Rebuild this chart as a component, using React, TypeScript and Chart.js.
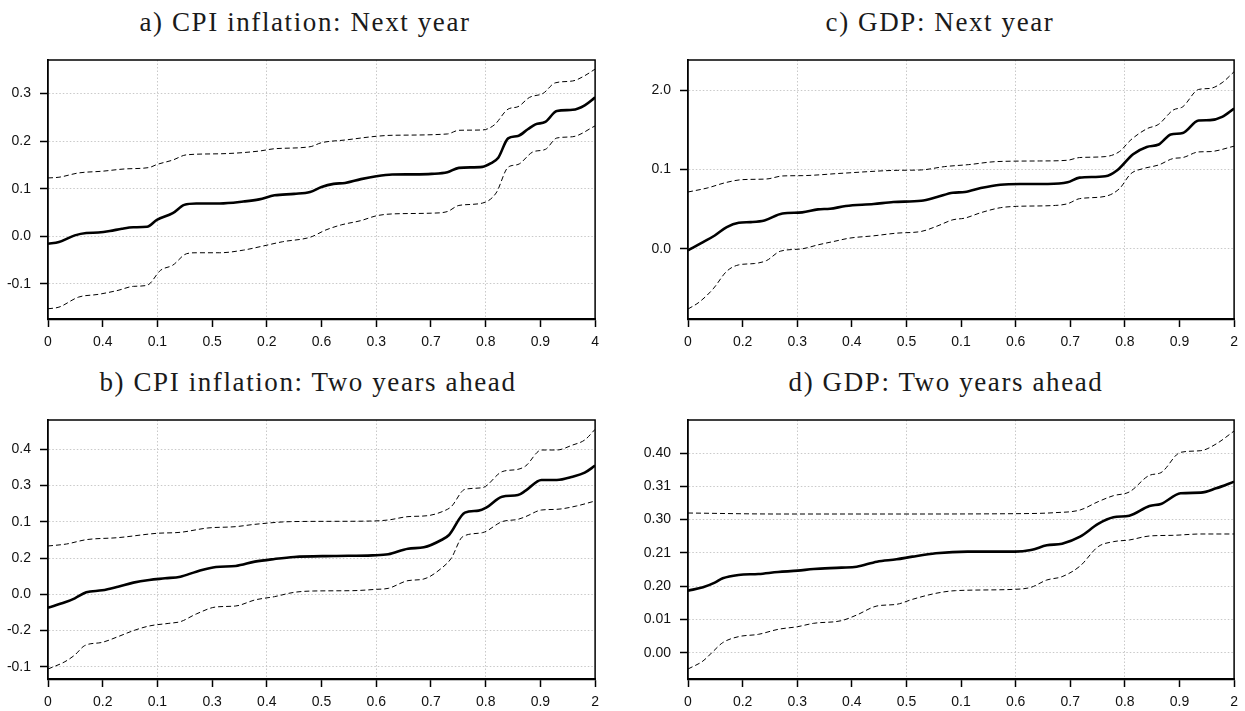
import React, { useEffect, useRef } from "react";
import { Chart, registerables } from "chart.js";

Chart.register(...registerables);

// ---------- tick positions and labels ----------
const xTickValues = [0, 0.1, 0.2, 0.3, 0.4, 0.5, 0.6, 0.7, 0.8, 0.9, 1];
const xLabelsA = ["0", "0.4", "0.1", "0.5", "0.2", "0.6", "0.3", "0.7", "0.8", "0.9", "4"];
const xLabelsB = ["0", "0.2", "0.1", "0.3", "0.4", "0.5", "0.6", "0.7", "0.8", "0.9", "2"];
const xLabelsC = ["0", "0.2", "0.3", "0.4", "0.5", "0.1", "0.6", "0.7", "0.8", "0.9", "2"];
const xLabelsD = ["0", "0.2", "0.3", "0.4", "0.5", "0.1", "0.6", "0.7", "0.8", "0.9", "2"];

const yTicksA = [-0.1, 0, 0.1, 0.2, 0.3];
const yLabelsA = ["-0.1", "0.0", "0.1", "0.2", "0.3"];
const yTicksB = [-0.2, -0.1, 0, 0.1, 0.2, 0.3, 0.4];
const yLabelsB = ["-0.1", "-0.2", "0.0", "0.2", "0.1", "0.3", "0.4"];
const yTicksC = [0, 0.1, 0.2];
const yLabelsC = ["0.0", "0.1", "2.0"];
const yTicksD = [0, 0.1, 0.2, 0.3, 0.4, 0.5, 0.6];
const yLabelsD = ["0.00", "0.01", "0.20", "0.21", "0.30", "0.31", "0.40"];

const yRangeA = [-0.1735, 0.37];
const yRangeB = [-0.2335, 0.4807];
const yRangeC = [-0.0884, 0.2379];
const yRangeD = [-0.0792, 0.6994];

// ---------- a) CPI inflation: Next year ----------
const aMidX = [0, 0.02, 0.049, 0.07, 0.092, 0.113, 0.135, 0.156, 0.181, 0.199, 0.228, 0.249, 0.271, 0.314, 0.357, 0.386, 0.414, 0.45, 0.479, 0.5, 0.522, 0.543, 0.572, 0.6, 0.629, 0.665, 0.701, 0.73, 0.751, 0.794, 0.809, 0.823, 0.841, 0.859, 0.877, 0.891, 0.909, 0.93, 0.959, 0.981, 1];
const aMidY = [-0.0155, -0.012, 0.002, 0.007, 0.008, 0.011, 0.016, 0.019, 0.02, 0.0345, 0.0486, 0.066, 0.069, 0.069, 0.073, 0.0775, 0.086, 0.089, 0.093, 0.1035, 0.11, 0.112, 0.12, 0.126, 0.1296, 0.13, 0.131, 0.1345, 0.1437, 0.1458, 0.153, 0.165, 0.2056, 0.2106, 0.2246, 0.235, 0.24, 0.263, 0.2655, 0.275, 0.2915];
const aUpX = [0, 0.02, 0.056, 0.099, 0.142, 0.185, 0.199, 0.228, 0.253, 0.314, 0.386, 0.414, 0.479, 0.5, 0.543, 0.6, 0.629, 0.73, 0.751, 0.794, 0.816, 0.841, 0.859, 0.88, 0.905, 0.927, 0.959, 0.981, 1];
const aUpY = [0.1225, 0.124, 0.133, 0.1366, 0.1415, 0.1444, 0.1507, 0.16, 0.171, 0.1732, 0.1789, 0.1838, 0.188, 0.1965, 0.2021, 0.2099, 0.212, 0.2148, 0.2225, 0.2232, 0.234, 0.267, 0.272, 0.2915, 0.3, 0.322, 0.326, 0.337, 0.351];
const aLoX = [0, 0.02, 0.056, 0.092, 0.128, 0.156, 0.181, 0.206, 0.228, 0.253, 0.271, 0.314, 0.357, 0.393, 0.429, 0.479, 0.508, 0.536, 0.572, 0.6, 0.629, 0.701, 0.73, 0.751, 0.794, 0.819, 0.841, 0.859, 0.887, 0.909, 0.93, 0.959, 1];
const aLoY = [-0.152, -0.1486, -0.1275, -0.1218, -0.1134, -0.105, -0.1028, -0.0711, -0.0606, -0.0366, -0.0345, -0.0345, -0.029, -0.0204, -0.0113, -0.002, 0.0134, 0.024, 0.033, 0.043, 0.047, 0.0486, 0.052, 0.0648, 0.0697, 0.0908, 0.145, 0.1507, 0.1775, 0.1824, 0.2063, 0.209, 0.2317];

// ---------- b) CPI inflation: Two years ahead ----------
const bMidX = [0, 0.031, 0.049, 0.07, 0.099, 0.128, 0.156, 0.185, 0.214, 0.242, 0.271, 0.307, 0.343, 0.378, 0.414, 0.45, 0.522, 0.593, 0.622, 0.658, 0.687, 0.719, 0.733, 0.762, 0.787, 0.801, 0.83, 0.859, 0.873, 0.902, 0.93, 0.959, 0.981, 1];
const bMidY = [-0.0368, -0.022, -0.011, 0.0055, 0.011, 0.0211, 0.0322, 0.0395, 0.0441, 0.0487, 0.0625, 0.0754, 0.0781, 0.0901, 0.0974, 0.1029, 0.1057, 0.1075, 0.1103, 0.1259, 0.1296, 0.1498, 0.1636, 0.2252, 0.2307, 0.239, 0.2693, 0.2739, 0.2858, 0.3153, 0.3153, 0.3244, 0.3355, 0.3548];
const bUpX = [0, 0.034, 0.07, 0.128, 0.199, 0.242, 0.292, 0.343, 0.378, 0.443, 0.522, 0.593, 0.622, 0.658, 0.694, 0.722, 0.737, 0.762, 0.794, 0.83, 0.859, 0.873, 0.902, 0.93, 0.959, 0.981, 1];
const bUpY = [0.1333, 0.1388, 0.1507, 0.1563, 0.1682, 0.171, 0.1829, 0.1866, 0.193, 0.2004, 0.2013, 0.2022, 0.205, 0.2142, 0.2169, 0.2289, 0.2417, 0.2895, 0.2941, 0.3382, 0.3447, 0.3539, 0.398, 0.398, 0.4118, 0.4256, 0.455];
const bLoX = [0, 0.031, 0.049, 0.067, 0.099, 0.128, 0.156, 0.185, 0.221, 0.242, 0.271, 0.307, 0.343, 0.378, 0.414, 0.45, 0.486, 0.557, 0.6, 0.622, 0.658, 0.687, 0.719, 0.737, 0.758, 0.794, 0.83, 0.859, 0.873, 0.902, 0.93, 0.966, 1];
const bLoY = [-0.2059, -0.1857, -0.1673, -0.1415, -0.1324, -0.1167, -0.1002, -0.0873, -0.08, -0.0754, -0.0542, -0.0349, -0.0322, -0.0156, -0.0064, 0.0055, 0.0092, 0.0101, 0.0138, 0.0165, 0.0377, 0.0423, 0.0717, 0.0993, 0.159, 0.17, 0.2004, 0.2068, 0.2142, 0.2325, 0.2344, 0.2436, 0.2574];

// ---------- c) GDP: Next year ----------
const cMidX = [0, 0.0276, 0.049, 0.071, 0.093, 0.115, 0.14, 0.173, 0.209, 0.238, 0.26, 0.289, 0.34, 0.376, 0.427, 0.456, 0.485, 0.507, 0.536, 0.572, 0.608, 0.659, 0.695, 0.717, 0.764, 0.786, 0.815, 0.84, 0.862, 0.884, 0.906, 0.935, 0.956, 0.978, 1];
const cMidY = [-0.002, 0.0084, 0.0168, 0.0274, 0.0328, 0.0337, 0.0358, 0.0446, 0.0459, 0.0497, 0.0505, 0.0539, 0.0564, 0.059, 0.0606, 0.0653, 0.0707, 0.0716, 0.0766, 0.0808, 0.0817, 0.0817, 0.0838, 0.0897, 0.0914, 0.099, 0.1192, 0.1284, 0.1314, 0.144, 0.146, 0.1617, 0.1621, 0.1663, 0.1768];
const cUpX = [0, 0.035, 0.071, 0.1, 0.144, 0.173, 0.209, 0.282, 0.383, 0.427, 0.47, 0.514, 0.565, 0.644, 0.695, 0.717, 0.764, 0.79, 0.811, 0.84, 0.862, 0.888, 0.906, 0.935, 0.956, 0.978, 1];
const cUpY = [0.0716, 0.0766, 0.0838, 0.0872, 0.088, 0.0918, 0.0922, 0.0952, 0.0989, 0.0994, 0.1036, 0.1061, 0.1099, 0.1107, 0.1116, 0.115, 0.1162, 0.1225, 0.1373, 0.1512, 0.157, 0.1747, 0.179, 0.2008, 0.2021, 0.2093, 0.2232];
const cLoX = [0, 0.02, 0.046, 0.071, 0.093, 0.122, 0.144, 0.169, 0.209, 0.238, 0.267, 0.296, 0.34, 0.383, 0.427, 0.456, 0.485, 0.507, 0.536, 0.572, 0.601, 0.673, 0.695, 0.717, 0.764, 0.79, 0.811, 0.833, 0.862, 0.888, 0.906, 0.935, 0.956, 1];
const cLoY = [-0.0758, -0.0674, -0.0505, -0.0282, -0.0202, -0.0185, -0.0147, -0.003, 0.0, 0.005, 0.0093, 0.0135, 0.0164, 0.0198, 0.0219, 0.0286, 0.0366, 0.0387, 0.0455, 0.0518, 0.0535, 0.0547, 0.0568, 0.0632, 0.0661, 0.0758, 0.0947, 0.101, 0.1057, 0.1137, 0.115, 0.1221, 0.1225, 0.1293];

// ---------- d) GDP: Two years ahead ----------
const dMidX = [0, 0.0275, 0.049, 0.0636, 0.0926, 0.129, 0.165, 0.201, 0.23, 0.281, 0.309, 0.346, 0.382, 0.411, 0.454, 0.512, 0.599, 0.628, 0.657, 0.685, 0.718, 0.751, 0.779, 0.808, 0.845, 0.866, 0.902, 0.939, 0.967, 1];
const dMidY = [0.1864, 0.1964, 0.2104, 0.2234, 0.2335, 0.2365, 0.2425, 0.2465, 0.2515, 0.2555, 0.2585, 0.2735, 0.2806, 0.2886, 0.2986, 0.3036, 0.3036, 0.3086, 0.3226, 0.3277, 0.3487, 0.3868, 0.4068, 0.4118, 0.4409, 0.4469, 0.479, 0.481, 0.494, 0.514];
const dUpX = [0, 0.165, 0.382, 0.599, 0.671, 0.718, 0.751, 0.779, 0.808, 0.845, 0.866, 0.902, 0.939, 0.967, 1];
const dUpY = [0.4198, 0.4168, 0.4168, 0.4178, 0.4208, 0.4289, 0.4539, 0.4719, 0.483, 0.5331, 0.5411, 0.6022, 0.6072, 0.6273, 0.6663];
const dLoX = [0, 0.0275, 0.0456, 0.0636, 0.0926, 0.129, 0.165, 0.201, 0.23, 0.281, 0.309, 0.346, 0.382, 0.411, 0.454, 0.49, 0.599, 0.628, 0.657, 0.685, 0.718, 0.751, 0.779, 0.808, 0.845, 0.888, 0.939, 1];
const dLoY = [-0.0491, -0.025, 0.003, 0.0301, 0.0481, 0.0551, 0.0701, 0.0782, 0.0882, 0.0962, 0.1132, 0.1403, 0.1453, 0.1603, 0.1784, 0.1864, 0.1904, 0.1964, 0.2184, 0.2285, 0.2605, 0.3186, 0.3337, 0.3387, 0.3507, 0.3527, 0.3567, 0.3567];

const titleA = "a) CPI inflation: Next year";
const titleB = "b) CPI inflation: Two years ahead";
const titleC = "c) GDP: Next year";
const titleD = "d) GDP: Two years ahead";

// ---------- helpers ----------
const toPoints = (xs: number[], ys: number[]) => {
  const n = Math.min(xs.length, ys.length);
  const out: { x: number; y: number }[] = [];
  for (let i = 0; i < n; i++) out.push({ x: xs[i], y: ys[i] });
  return out;
};

const Y_AXIS_W = 48;
const X_AXIS_H = 41;
const PAD_TOP = 20;
const PAD_RIGHT = 6;
const GRID_COLOR = "#c9c9c9";
const TICK_FONT = { family: "'Liberation Sans', Arial, sans-serif", size: 14 };

const boxPlugin = {
  id: "boxFrame",
  afterDraw(chart: any) {
    const { ctx, chartArea } = chart;
    ctx.save();
    ctx.strokeStyle = "#000";
    ctx.lineWidth = 1.5;
    ctx.beginPath();
    ctx.moveTo(chartArea.left, chartArea.top);
    ctx.lineTo(chartArea.right, chartArea.top);
    ctx.lineTo(chartArea.right, chartArea.bottom);
    ctx.stroke();
    ctx.restore();
  },
};

type PanelProps = {
  left: number;
  top: number;
  plotW: number;
  plotH: number;
  xLabels: string[];
  yTicks: number[];
  yLabels: string[];
  yRange: number[];
  mid: { x: number[]; y: number[] };
  up: { x: number[]; y: number[] };
  lo: { x: number[]; y: number[] };
};

function Panel(p: PanelProps) {
  const ref = useRef<HTMLCanvasElement | null>(null);
  const width = Y_AXIS_W + p.plotW + PAD_RIGHT;
  const height = PAD_TOP + p.plotH + X_AXIS_H;

  useEffect(() => {
    if (!ref.current) return;
    const dashed = (xs: number[], ys: number[]) => ({
      data: toPoints(xs, ys),
      borderColor: "#000",
      borderWidth: 1,
      borderDash: [5, 3],
      pointRadius: 0,
      fill: false,
      cubicInterpolationMode: "monotone" as const,
    });
    const chart = new Chart(ref.current, {
      type: "line",
      data: {
        datasets: [
          dashed(p.up.x, p.up.y),
          dashed(p.lo.x, p.lo.y),
          {
            data: toPoints(p.mid.x, p.mid.y),
            borderColor: "#000",
            borderWidth: 2.6,
            pointRadius: 0,
            fill: false,
            cubicInterpolationMode: "monotone" as const,
          },
        ],
      },
      options: {
        animation: false,
        responsive: false,
        maintainAspectRatio: false,
        layout: { padding: { top: PAD_TOP, right: PAD_RIGHT, left: 0, bottom: 0 } },
        plugins: { legend: { display: false }, tooltip: { enabled: false }, title: { display: false } },
        scales: {
          x: {
            type: "linear",
            min: 0,
            max: 1,
            afterBuildTicks: (s: any) => {
              s.ticks = xTickValues.map((v) => ({ value: v }));
            },
            afterFit: (s: any) => {
              s.height = X_AXIS_H;
            },
            ticks: {
              autoSkip: false,
              maxRotation: 0,
              minRotation: 0,
              padding: 7,
              color: "#111",
              font: TICK_FONT,
              callback: (_v: any, i: number) => p.xLabels[i],
            },
            grid: {
              color: (c: any) => (c.index % 2 === 0 && c.index > 0 && c.index < 10 ? GRID_COLOR : "rgba(0,0,0,0)"),
              tickColor: "#000",
              tickLength: 8,
              tickWidth: 1.5,
              lineWidth: 1,
            },
            border: { color: "#000", width: 2.2, dash: [1.5, 2] },
          },
          y: {
            type: "linear",
            min: p.yRange[0],
            max: p.yRange[1],
            afterBuildTicks: (s: any) => {
              s.ticks = p.yTicks.map((v) => ({ value: v }));
            },
            afterFit: (s: any) => {
              s.width = Y_AXIS_W;
            },
            ticks: {
              autoSkip: false,
              padding: 9,
              color: "#111",
              font: TICK_FONT,
              callback: (_v: any, i: number) => p.yLabels[i],
            },
            grid: {
              color: GRID_COLOR,
              tickColor: "#000",
              tickLength: 8,
              tickWidth: 1.5,
              lineWidth: 1,
            },
            border: { color: "#000", width: 1.8, dash: [1.5, 2] },
          },
        },
      },
      plugins: [boxPlugin],
    } as any);
    return () => chart.destroy();
  }, []);

  return (
    <canvas
      ref={ref}
      width={width}
      height={height}
      style={{ position: "absolute", left: p.left - Y_AXIS_W, top: p.top - PAD_TOP, width, height }}
    />
  );
}

function Title({ text, cx, baseline }: { text: string; cx: number; baseline: number }) {
  return (
    <div
      style={{
        position: "absolute",
        left: cx - 300,
        width: 600,
        top: baseline - 22.6,
        textAlign: "center",
        fontFamily: "'Liberation Serif', 'DejaVu Serif', serif",
        fontSize: 27,
        lineHeight: "27px",
        letterSpacing: "1.6px",
        color: "#1a1a1a",
        whiteSpace: "nowrap",
      }}
    >
      {text}
    </div>
  );
}

export default function App() {
  return (
    <div
      style={{
        position: "fixed",
        left: 0,
        top: 0,
        width: 1245,
        height: 711,
        background: "#fff",
        overflow: "hidden",
      }}
    >
      <Title text={titleA} cx={305} baseline={32} />
      <Title text={titleC} cx={940} baseline={32} />
      <Title text={titleB} cx={308} baseline={392} />
      <Title text={titleD} cx={946} baseline={392} />
      <Panel
        left={48} top={60} plotW={552} plotH={259}
        xLabels={xLabelsA} yTicks={yTicksA} yLabels={yLabelsA} yRange={yRangeA}
        mid={{ x: aMidX, y: aMidY }} up={{ x: aUpX, y: aUpY }} lo={{ x: aLoX, y: aLoY }}
      />
      <Panel
        left={688} top={60} plotW={551} plotH={259}
        xLabels={xLabelsC} yTicks={yTicksC} yLabels={yLabelsC} yRange={yRangeC}
        mid={{ x: cMidX, y: cMidY }} up={{ x: cUpX, y: cUpY }} lo={{ x: cLoX, y: cLoY }}
      />
      <Panel
        left={48} top={420} plotW={552} plotH={259}
        xLabels={xLabelsB} yTicks={yTicksB} yLabels={yLabelsB} yRange={yRangeB}
        mid={{ x: bMidX, y: bMidY }} up={{ x: bUpX, y: bUpY }} lo={{ x: bLoX, y: bLoY }}
      />
      <Panel
        left={688} top={420} plotW={551} plotH={259}
        xLabels={xLabelsD} yTicks={yTicksD} yLabels={yLabelsD} yRange={yRangeD}
        mid={{ x: dMidX, y: dMidY }} up={{ x: dUpX, y: dUpY }} lo={{ x: dLoX, y: dLoY }}
      />
    </div>
  );
}
